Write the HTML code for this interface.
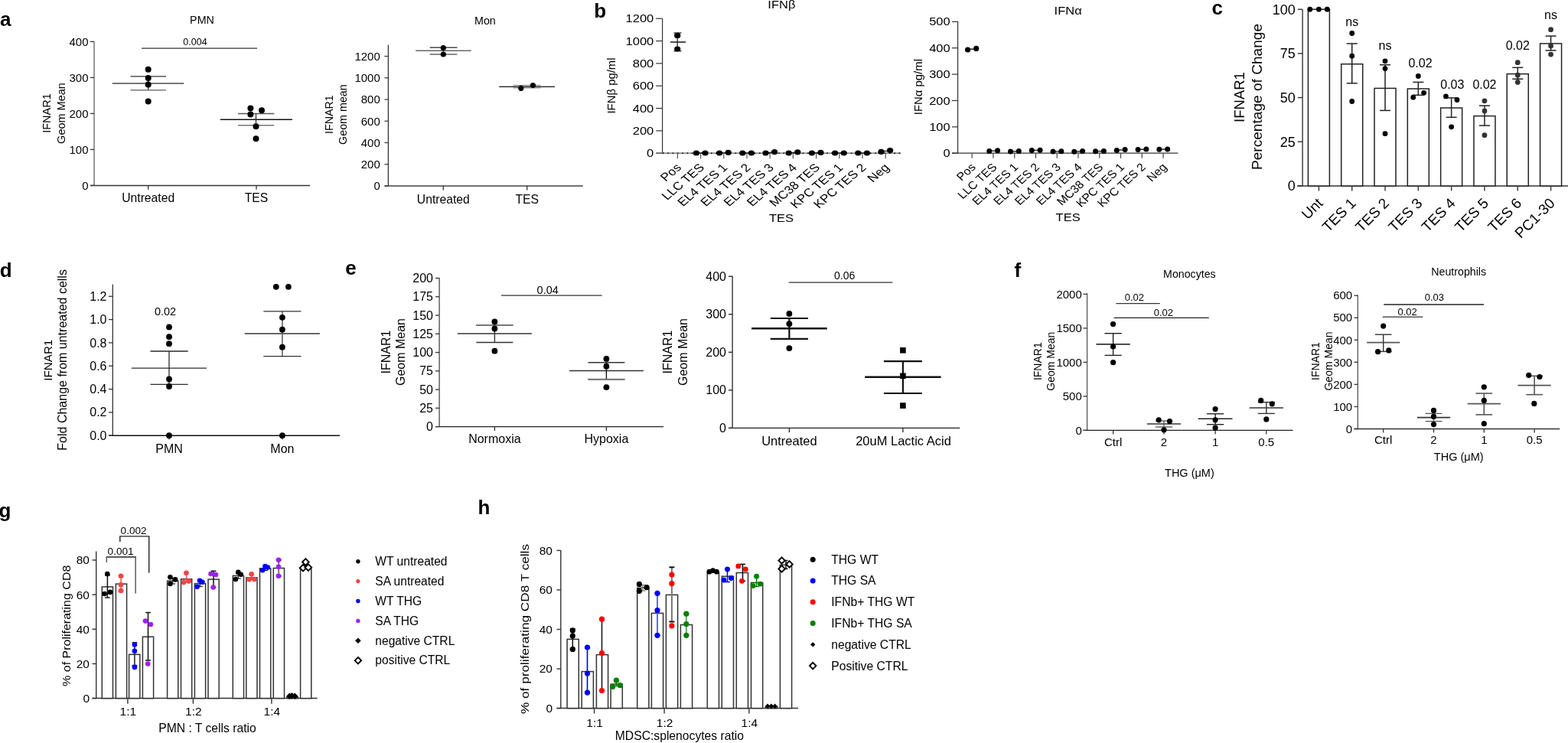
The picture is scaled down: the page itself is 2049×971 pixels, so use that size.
<!DOCTYPE html>
<html><head><meta charset="utf-8"><title>Figure</title>
<style>
html,body{margin:0;padding:0;background:#fff;}
body{width:2049px;height:971px;overflow:hidden;}
svg{display:block;font-family:"Liberation Sans", Arial, Helvetica, sans-serif;}
</style></head>
<body>
<svg width="2049" height="971" viewBox="0 0 2049 971">
<rect x="0" y="0" width="2049" height="971" fill="#fff"/>
<text x="0.1" y="34" font-size="26" font-weight="bold">a</text>
<text x="776.3" y="22.6" font-size="26" font-weight="bold">b</text>
<text x="1583.6" y="18.6" font-size="26" font-weight="bold">c</text>
<text x="-0.3" y="361.5" font-size="26" font-weight="bold">d</text>
<text x="451.2" y="359.2" font-size="26" font-weight="bold">e</text>
<text x="1325.5" y="362" font-size="26" font-weight="bold">f</text>
<text x="-1.5" y="675.5" font-size="26" font-weight="bold">g</text>
<text x="624.5" y="671.8" font-size="26" font-weight="bold">h</text>
<line x1="123" y1="54.4" x2="123" y2="242.4" stroke="#777" stroke-width="1.5" />
<line x1="118" y1="242.5" x2="405" y2="242.5" stroke="#333" stroke-width="1.3" />
<line x1="118" y1="242.4" x2="123" y2="242.4" stroke="#333" stroke-width="1.3" />
<text x="115.5" y="247.8" font-size="15" text-anchor="end">0</text>
<line x1="118" y1="195.4" x2="123" y2="195.4" stroke="#333" stroke-width="1.3" />
<text x="115.5" y="200.8" font-size="15" text-anchor="end">100</text>
<line x1="118" y1="148.4" x2="123" y2="148.4" stroke="#333" stroke-width="1.3" />
<text x="115.5" y="153.8" font-size="15" text-anchor="end">200</text>
<line x1="118" y1="101.4" x2="123" y2="101.4" stroke="#333" stroke-width="1.3" />
<text x="115.5" y="106.8" font-size="15" text-anchor="end">300</text>
<line x1="118" y1="54.4" x2="123" y2="54.4" stroke="#333" stroke-width="1.3" />
<text x="115.5" y="59.8" font-size="15" text-anchor="end">400</text>
<line x1="193.7" y1="242.5" x2="193.7" y2="247.8" stroke="#333" stroke-width="1.3" />
<line x1="335" y1="242.5" x2="335" y2="247.8" stroke="#333" stroke-width="1.3" />
<text x="193.7" y="264.1" font-size="15.7" text-anchor="middle">Untreated</text>
<text x="335" y="264.1" font-size="15.7" text-anchor="middle">TES</text>
<text x="264" y="31" font-size="14.3" text-anchor="middle">PMN</text>
<text transform="translate(66 148) rotate(-90)" font-size="14.5" text-anchor="middle">IFNAR1</text>
<text transform="translate(85 148) rotate(-90)" font-size="14.5" text-anchor="middle">Geom Mean</text>
<line x1="185" y1="63.2" x2="336" y2="63.2" stroke="#333" stroke-width="1.2" />
<text x="255" y="59" font-size="12.5" text-anchor="middle">0.004</text>
<line x1="146.7" y1="109" x2="240.3" y2="109" stroke="#777" stroke-width="2" />
<line x1="193.7" y1="99.8" x2="193.7" y2="117.7" stroke="#333" stroke-width="1.3" />
<line x1="170.5" y1="99.8" x2="217" y2="99.8" stroke="#333" stroke-width="1.3" />
<line x1="170.5" y1="117.7" x2="217" y2="117.7" stroke="#777" stroke-width="1.6" />
<circle cx="193.7" cy="90.8" r="4" fill="#000"/>
<circle cx="193.7" cy="101.9" r="4" fill="#000"/>
<circle cx="193.7" cy="110.6" r="4" fill="#000"/>
<circle cx="193.7" cy="132.5" r="4" fill="#000"/>
<line x1="287.9" y1="156.3" x2="382" y2="156.3" stroke="#111" stroke-width="1.5" />
<line x1="334.5" y1="148.6" x2="334.5" y2="163.7" stroke="#333" stroke-width="1.3" />
<line x1="311" y1="148.6" x2="358.3" y2="148.6" stroke="#555" stroke-width="1.5" />
<line x1="311" y1="163.7" x2="358.3" y2="163.7" stroke="#777" stroke-width="1.6" />
<circle cx="327.4" cy="141.5" r="4" fill="#000"/>
<circle cx="342" cy="144.2" r="4" fill="#000"/>
<circle cx="327.4" cy="149.5" r="4" fill="#000"/>
<circle cx="334.5" cy="165.2" r="4" fill="#000"/>
<circle cx="334.5" cy="181.3" r="4" fill="#000"/>
<line x1="507.4" y1="58.7" x2="507.4" y2="243" stroke="#333" stroke-width="1.3" />
<line x1="502.5" y1="243" x2="761.8" y2="243" stroke="#444" stroke-width="1.3" />
<line x1="502.5" y1="243" x2="507.4" y2="243" stroke="#333" stroke-width="1.2" />
<text x="496.8" y="248.4" font-size="15" text-anchor="end">0</text>
<line x1="502.5" y1="214.75" x2="507.4" y2="214.75" stroke="#333" stroke-width="1.2" />
<text x="496.8" y="220.15" font-size="15" text-anchor="end">200</text>
<line x1="502.5" y1="186.5" x2="507.4" y2="186.5" stroke="#333" stroke-width="1.2" />
<text x="496.8" y="191.9" font-size="15" text-anchor="end">400</text>
<line x1="502.5" y1="158.25" x2="507.4" y2="158.25" stroke="#333" stroke-width="1.2" />
<text x="496.8" y="163.65" font-size="15" text-anchor="end">600</text>
<line x1="502.5" y1="130" x2="507.4" y2="130" stroke="#333" stroke-width="1.2" />
<text x="496.8" y="135.4" font-size="15" text-anchor="end">800</text>
<line x1="502.5" y1="101.75" x2="507.4" y2="101.75" stroke="#333" stroke-width="1.2" />
<text x="496.8" y="107.15" font-size="15" text-anchor="end">1000</text>
<line x1="502.5" y1="73.5" x2="507.4" y2="73.5" stroke="#333" stroke-width="1.2" />
<text x="496.8" y="78.9" font-size="15" text-anchor="end">1200</text>
<line x1="579.3" y1="243" x2="579.3" y2="248.5" stroke="#333" stroke-width="1.3" />
<line x1="688.7" y1="243" x2="688.7" y2="248.5" stroke="#333" stroke-width="1.3" />
<text x="579.3" y="265.6" font-size="15.7" text-anchor="middle">Untreated</text>
<text x="688.7" y="265.6" font-size="15.7" text-anchor="middle">TES</text>
<text x="633.9" y="31.7" font-size="14.3" text-anchor="middle">Mon</text>
<text transform="translate(434.6 149.6) rotate(-90)" font-size="14.3" text-anchor="middle">IFNAR1</text>
<text transform="translate(452.8 149.6) rotate(-90)" font-size="14.3" text-anchor="middle">Geom mean</text>
<line x1="543.2" y1="66.3" x2="615.7" y2="66.3" stroke="#666" stroke-width="1.5" />
<line x1="561.7" y1="62.2" x2="597.5" y2="62.2" stroke="#222" stroke-width="1.3" />
<line x1="561.7" y1="71" x2="597.5" y2="71" stroke="#666" stroke-width="1.3" />
<line x1="579.3" y1="62.2" x2="579.3" y2="71" stroke="#333" stroke-width="1.2" />
<circle cx="579.3" cy="62.5" r="3.6" fill="#000"/>
<circle cx="579.3" cy="71" r="3.6" fill="#000"/>
<line x1="652.3" y1="113.3" x2="725.1" y2="113.3" stroke="#111" stroke-width="1.3" />
<line x1="670.5" y1="111.5" x2="706.6" y2="111.5" stroke="#777" stroke-width="1.2" />
<line x1="670.5" y1="115" x2="706.6" y2="115" stroke="#777" stroke-width="1.2" />
<circle cx="680.8" cy="115.3" r="3.6" fill="#000"/>
<circle cx="696.4" cy="111.5" r="3.6" fill="#000"/>
<line x1="865.6" y1="24.3" x2="865.6" y2="200.2" stroke="#333" stroke-width="1.2" />
<line x1="857.2" y1="200.2" x2="865.6" y2="200.2" stroke="#333" stroke-width="1.2" />
<text transform="translate(854.3 205.3) scale(1.18 1)" font-size="14" text-anchor="end">0</text>
<line x1="857.2" y1="170.87" x2="865.6" y2="170.87" stroke="#333" stroke-width="1.2" />
<text transform="translate(854.3 175.97) scale(1.18 1)" font-size="14" text-anchor="end">200</text>
<line x1="857.2" y1="141.54" x2="865.6" y2="141.54" stroke="#333" stroke-width="1.2" />
<text transform="translate(854.3 146.64) scale(1.18 1)" font-size="14" text-anchor="end">400</text>
<line x1="857.2" y1="112.21" x2="865.6" y2="112.21" stroke="#333" stroke-width="1.2" />
<text transform="translate(854.3 117.31) scale(1.18 1)" font-size="14" text-anchor="end">600</text>
<line x1="857.2" y1="82.88" x2="865.6" y2="82.88" stroke="#333" stroke-width="1.2" />
<text transform="translate(854.3 87.98) scale(1.18 1)" font-size="14" text-anchor="end">800</text>
<line x1="857.2" y1="53.55" x2="865.6" y2="53.55" stroke="#333" stroke-width="1.2" />
<text transform="translate(854.3 58.65) scale(1.18 1)" font-size="14" text-anchor="end">1000</text>
<line x1="857.2" y1="24.22" x2="865.6" y2="24.22" stroke="#333" stroke-width="1.2" />
<text transform="translate(854.3 29.32) scale(1.18 1)" font-size="14" text-anchor="end">1200</text>
<line x1="857.2" y1="200.2" x2="1177" y2="200.2" stroke="#666" stroke-width="1.3" />
<line x1="866" y1="200.2" x2="1177" y2="200.2" stroke="#000" stroke-width="1.6" stroke-dasharray="1.6 4.7"/>
<line x1="885.4" y1="200.2" x2="885.4" y2="207.2" stroke="#555" stroke-width="1.2" />
<text transform="translate(891.3 219.9) scale(1.18 1) rotate(-45)" font-size="14.75" text-anchor="end">Pos</text>
<line x1="915.6" y1="200.2" x2="915.6" y2="207.2" stroke="#555" stroke-width="1.2" />
<text transform="translate(921.5 219.9) scale(1.18 1) rotate(-45)" font-size="14.75" text-anchor="end">LLC TES</text>
<line x1="945.8" y1="200.2" x2="945.8" y2="207.2" stroke="#555" stroke-width="1.2" />
<text transform="translate(951.7 219.9) scale(1.18 1) rotate(-45)" font-size="14.75" text-anchor="end">EL4 TES 1</text>
<line x1="976" y1="200.2" x2="976" y2="207.2" stroke="#555" stroke-width="1.2" />
<text transform="translate(981.9 219.9) scale(1.18 1) rotate(-45)" font-size="14.75" text-anchor="end">EL4 TES 2</text>
<line x1="1006.2" y1="200.2" x2="1006.2" y2="207.2" stroke="#555" stroke-width="1.2" />
<text transform="translate(1012.1 219.9) scale(1.18 1) rotate(-45)" font-size="14.75" text-anchor="end">EL4 TES 3</text>
<line x1="1036.4" y1="200.2" x2="1036.4" y2="207.2" stroke="#555" stroke-width="1.2" />
<text transform="translate(1042.3 219.9) scale(1.18 1) rotate(-45)" font-size="14.75" text-anchor="end">EL4 TES 4</text>
<line x1="1066.6" y1="200.2" x2="1066.6" y2="207.2" stroke="#555" stroke-width="1.2" />
<text transform="translate(1072.5 219.9) scale(1.18 1) rotate(-45)" font-size="14.75" text-anchor="end">MC38 TES</text>
<line x1="1096.8" y1="200.2" x2="1096.8" y2="207.2" stroke="#555" stroke-width="1.2" />
<text transform="translate(1102.7 219.9) scale(1.18 1) rotate(-45)" font-size="14.75" text-anchor="end">KPC TES 1</text>
<line x1="1127" y1="200.2" x2="1127" y2="207.2" stroke="#555" stroke-width="1.2" />
<text transform="translate(1132.9 219.9) scale(1.18 1) rotate(-45)" font-size="14.75" text-anchor="end">KPC TES 2</text>
<line x1="1157.2" y1="200.2" x2="1157.2" y2="207.2" stroke="#555" stroke-width="1.2" />
<text transform="translate(1163.1 219.9) scale(1.18 1) rotate(-45)" font-size="14.75" text-anchor="end">Neg</text>
<text transform="translate(1021.4 10.6) scale(1.18 1)" font-size="14" text-anchor="middle">IFNβ</text>
<text transform="translate(804.3 112) rotate(-90)" font-size="14.9" text-anchor="middle">IFNβ pg/ml</text>
<text transform="translate(1021 290.3) scale(1.18 1)" font-size="14" text-anchor="middle">TES</text>
<line x1="875.9" y1="55" x2="896" y2="55" stroke="#222" stroke-width="1.6" />
<line x1="885.2" y1="43" x2="885.2" y2="66.7" stroke="#222" stroke-width="1.3" />
<line x1="880.5" y1="43" x2="890.4" y2="43" stroke="#222" stroke-width="1.3" />
<line x1="880.5" y1="66.7" x2="890.4" y2="66.7" stroke="#222" stroke-width="1.3" />
<ellipse cx="885.2" cy="46.4" rx="4.14" ry="3.6" fill="#000"/>
<ellipse cx="885.2" cy="64" rx="4.14" ry="3.6" fill="#000"/>
<line x1="909.9" y1="200" x2="921.3" y2="200" stroke="#222" stroke-width="1.4" />
<ellipse cx="909.9" cy="200" rx="4.14" ry="3.6" fill="#000"/>
<ellipse cx="921.5" cy="200" rx="4.14" ry="3.6" fill="#000"/>
<line x1="940.1" y1="199.65" x2="951.5" y2="199.65" stroke="#222" stroke-width="1.4" />
<ellipse cx="940.1" cy="200" rx="4.14" ry="3.6" fill="#000"/>
<ellipse cx="951.7" cy="199.3" rx="4.14" ry="3.6" fill="#000"/>
<line x1="970.3" y1="200" x2="981.7" y2="200" stroke="#222" stroke-width="1.4" />
<ellipse cx="970.3" cy="200" rx="4.14" ry="3.6" fill="#000"/>
<ellipse cx="981.9" cy="200" rx="4.14" ry="3.6" fill="#000"/>
<line x1="1000.5" y1="199.3" x2="1011.9" y2="199.3" stroke="#222" stroke-width="1.4" />
<ellipse cx="1000.5" cy="200" rx="4.14" ry="3.6" fill="#000"/>
<ellipse cx="1012.1" cy="198.6" rx="4.14" ry="3.6" fill="#000"/>
<line x1="1030.7" y1="199.4" x2="1042.1" y2="199.4" stroke="#222" stroke-width="1.4" />
<ellipse cx="1030.7" cy="200" rx="4.14" ry="3.6" fill="#000"/>
<ellipse cx="1042.3" cy="198.8" rx="4.14" ry="3.6" fill="#000"/>
<line x1="1060.9" y1="199.7" x2="1072.3" y2="199.7" stroke="#222" stroke-width="1.4" />
<ellipse cx="1060.9" cy="200" rx="4.14" ry="3.6" fill="#000"/>
<ellipse cx="1072.5" cy="199.4" rx="4.14" ry="3.6" fill="#000"/>
<line x1="1091.1" y1="200" x2="1102.5" y2="200" stroke="#222" stroke-width="1.4" />
<ellipse cx="1091.1" cy="200" rx="4.14" ry="3.6" fill="#000"/>
<ellipse cx="1102.7" cy="200" rx="4.14" ry="3.6" fill="#000"/>
<line x1="1121.3" y1="200" x2="1132.7" y2="200" stroke="#222" stroke-width="1.4" />
<ellipse cx="1121.3" cy="200" rx="4.14" ry="3.6" fill="#000"/>
<ellipse cx="1132.9" cy="200" rx="4.14" ry="3.6" fill="#000"/>
<line x1="1151.5" y1="197.45" x2="1162.9" y2="197.45" stroke="#222" stroke-width="1.4" />
<ellipse cx="1151.5" cy="198.4" rx="4.14" ry="3.6" fill="#000"/>
<ellipse cx="1163.1" cy="196.5" rx="4.14" ry="3.6" fill="#000"/>
<line x1="1251.6" y1="27.8" x2="1251.6" y2="200.2" stroke="#333" stroke-width="1.2" />
<line x1="1244" y1="200.2" x2="1251.6" y2="200.2" stroke="#333" stroke-width="1.2" />
<text transform="translate(1241.7 205.3) scale(1.18 1)" font-size="14" text-anchor="end">0</text>
<line x1="1244" y1="165.83" x2="1251.6" y2="165.83" stroke="#333" stroke-width="1.2" />
<text transform="translate(1241.7 170.93) scale(1.18 1)" font-size="14" text-anchor="end">100</text>
<line x1="1244" y1="131.46" x2="1251.6" y2="131.46" stroke="#333" stroke-width="1.2" />
<text transform="translate(1241.7 136.56) scale(1.18 1)" font-size="14" text-anchor="end">200</text>
<line x1="1244" y1="97.09" x2="1251.6" y2="97.09" stroke="#333" stroke-width="1.2" />
<text transform="translate(1241.7 102.19) scale(1.18 1)" font-size="14" text-anchor="end">300</text>
<line x1="1244" y1="62.72" x2="1251.6" y2="62.72" stroke="#333" stroke-width="1.2" />
<text transform="translate(1241.7 67.82) scale(1.18 1)" font-size="14" text-anchor="end">400</text>
<line x1="1244" y1="28.35" x2="1251.6" y2="28.35" stroke="#333" stroke-width="1.2" />
<text transform="translate(1241.7 33.45) scale(1.18 1)" font-size="14" text-anchor="end">500</text>
<line x1="1244" y1="200.2" x2="1539.3" y2="200.2" stroke="#333" stroke-width="1.3" />
<line x1="1270.2" y1="200.2" x2="1270.2" y2="206.8" stroke="#444" stroke-width="1.2" />
<text transform="translate(1275.9 219.4) scale(1.1 1) rotate(-45)" font-size="14.5" text-anchor="end">Pos</text>
<line x1="1297.96" y1="200.2" x2="1297.96" y2="206.8" stroke="#444" stroke-width="1.2" />
<text transform="translate(1303.66 219.4) scale(1.1 1) rotate(-45)" font-size="14.5" text-anchor="end">LLC TES</text>
<line x1="1325.72" y1="200.2" x2="1325.72" y2="206.8" stroke="#444" stroke-width="1.2" />
<text transform="translate(1331.42 219.4) scale(1.1 1) rotate(-45)" font-size="14.5" text-anchor="end">EL4 TES 1</text>
<line x1="1353.48" y1="200.2" x2="1353.48" y2="206.8" stroke="#444" stroke-width="1.2" />
<text transform="translate(1359.18 219.4) scale(1.1 1) rotate(-45)" font-size="14.5" text-anchor="end">EL4 TES 2</text>
<line x1="1381.24" y1="200.2" x2="1381.24" y2="206.8" stroke="#444" stroke-width="1.2" />
<text transform="translate(1386.94 219.4) scale(1.1 1) rotate(-45)" font-size="14.5" text-anchor="end">EL4 TES 3</text>
<line x1="1409" y1="200.2" x2="1409" y2="206.8" stroke="#444" stroke-width="1.2" />
<text transform="translate(1414.7 219.4) scale(1.1 1) rotate(-45)" font-size="14.5" text-anchor="end">EL4 TES 4</text>
<line x1="1436.76" y1="200.2" x2="1436.76" y2="206.8" stroke="#444" stroke-width="1.2" />
<text transform="translate(1442.46 219.4) scale(1.1 1) rotate(-45)" font-size="14.5" text-anchor="end">MC38 TES</text>
<line x1="1464.52" y1="200.2" x2="1464.52" y2="206.8" stroke="#444" stroke-width="1.2" />
<text transform="translate(1470.22 219.4) scale(1.1 1) rotate(-45)" font-size="14.5" text-anchor="end">KPC TES 1</text>
<line x1="1492.28" y1="200.2" x2="1492.28" y2="206.8" stroke="#444" stroke-width="1.2" />
<text transform="translate(1497.98 219.4) scale(1.1 1) rotate(-45)" font-size="14.5" text-anchor="end">KPC TES 2</text>
<line x1="1520.04" y1="200.2" x2="1520.04" y2="206.8" stroke="#444" stroke-width="1.2" />
<text transform="translate(1525.74 219.4) scale(1.1 1) rotate(-45)" font-size="14.5" text-anchor="end">Neg</text>
<text transform="translate(1395.6 19.2) scale(1.18 1)" font-size="14" text-anchor="middle">IFNα</text>
<text transform="translate(1205 113.6) rotate(-90)" font-size="14.9" text-anchor="middle">IFNα pg/ml</text>
<text transform="translate(1395.6 289) scale(1.18 1)" font-size="14" text-anchor="middle">TES</text>
<line x1="1264.6" y1="64.2" x2="1275.7" y2="64.2" stroke="#222" stroke-width="1.5" />
<circle cx="1264.6" cy="65" r="3.6" fill="#000"/>
<circle cx="1275.7" cy="63.4" r="3.6" fill="#000"/>
<line x1="1292.76" y1="197.15" x2="1303.56" y2="197.15" stroke="#222" stroke-width="1.4" />
<circle cx="1292.76" cy="197.6" r="3.5" fill="#000"/>
<circle cx="1303.56" cy="196.7" r="3.5" fill="#000"/>
<line x1="1320.52" y1="197.75" x2="1331.32" y2="197.75" stroke="#222" stroke-width="1.4" />
<circle cx="1320.52" cy="198" r="3.5" fill="#000"/>
<circle cx="1331.32" cy="197.5" r="3.5" fill="#000"/>
<line x1="1348.28" y1="196.35" x2="1359.08" y2="196.35" stroke="#222" stroke-width="1.4" />
<circle cx="1348.28" cy="196.5" r="3.5" fill="#000"/>
<circle cx="1359.08" cy="196.2" r="3.5" fill="#000"/>
<line x1="1376.04" y1="197.9" x2="1386.84" y2="197.9" stroke="#222" stroke-width="1.4" />
<circle cx="1376.04" cy="198" r="3.5" fill="#000"/>
<circle cx="1386.84" cy="197.8" r="3.5" fill="#000"/>
<line x1="1403.8" y1="197.95" x2="1414.6" y2="197.95" stroke="#222" stroke-width="1.4" />
<circle cx="1403.8" cy="198.3" r="3.5" fill="#000"/>
<circle cx="1414.6" cy="197.6" r="3.5" fill="#000"/>
<line x1="1431.56" y1="197.65" x2="1442.36" y2="197.65" stroke="#222" stroke-width="1.4" />
<circle cx="1431.56" cy="197.8" r="3.5" fill="#000"/>
<circle cx="1442.36" cy="197.5" r="3.5" fill="#000"/>
<line x1="1459.32" y1="196.05" x2="1470.12" y2="196.05" stroke="#222" stroke-width="1.4" />
<circle cx="1459.32" cy="196.5" r="3.5" fill="#000"/>
<circle cx="1470.12" cy="195.6" r="3.5" fill="#000"/>
<line x1="1487.08" y1="195.3" x2="1497.88" y2="195.3" stroke="#222" stroke-width="1.4" />
<circle cx="1487.08" cy="195.6" r="3.5" fill="#000"/>
<circle cx="1497.88" cy="195" r="3.5" fill="#000"/>
<line x1="1514.84" y1="195.15" x2="1525.64" y2="195.15" stroke="#222" stroke-width="1.4" />
<circle cx="1514.84" cy="195.3" r="3.5" fill="#000"/>
<circle cx="1525.64" cy="195" r="3.5" fill="#000"/>
<line x1="1702.1" y1="12.2" x2="1702.1" y2="243" stroke="#333" stroke-width="1.4" />
<line x1="1695.8" y1="242.9" x2="1702.1" y2="242.9" stroke="#333" stroke-width="1.4" />
<text x="1692.8" y="249.3" font-size="18" text-anchor="end">0</text>
<line x1="1695.8" y1="185.23" x2="1702.1" y2="185.23" stroke="#333" stroke-width="1.4" />
<text x="1692.8" y="191.63" font-size="18" text-anchor="end">25</text>
<line x1="1695.8" y1="127.55" x2="1702.1" y2="127.55" stroke="#333" stroke-width="1.4" />
<text x="1692.8" y="133.95" font-size="18" text-anchor="end">50</text>
<line x1="1695.8" y1="69.88" x2="1702.1" y2="69.88" stroke="#333" stroke-width="1.4" />
<text x="1692.8" y="76.28" font-size="18" text-anchor="end">75</text>
<line x1="1695.8" y1="12.2" x2="1702.1" y2="12.2" stroke="#333" stroke-width="1.4" />
<text x="1692.8" y="18.6" font-size="18" text-anchor="end">100</text>
<line x1="1695" y1="243" x2="2049" y2="243" stroke="#333" stroke-width="1.4" />
<rect x="1709.4" y="12.2" width="28" height="230.8" stroke="#222" stroke-width="1.5" fill="#fff"/>
<line x1="1723.4" y1="243" x2="1723.4" y2="249.4" stroke="#333" stroke-width="1.4" />
<text transform="translate(1729.7 266.8) rotate(-45)" font-size="19" text-anchor="end">Unt</text>
<rect x="1752.71" y="83.7" width="28" height="159.3" stroke="#222" stroke-width="1.5" fill="#fff"/>
<line x1="1766.71" y1="243" x2="1766.71" y2="249.4" stroke="#333" stroke-width="1.4" />
<text transform="translate(1773.01 266.8) rotate(-45)" font-size="19" text-anchor="end">TES 1</text>
<rect x="1796.02" y="115.4" width="28" height="127.6" stroke="#222" stroke-width="1.5" fill="#fff"/>
<line x1="1810.02" y1="243" x2="1810.02" y2="249.4" stroke="#333" stroke-width="1.4" />
<text transform="translate(1816.32 266.8) rotate(-45)" font-size="19" text-anchor="end">TES 2</text>
<rect x="1839.33" y="116" width="28" height="127" stroke="#222" stroke-width="1.5" fill="#fff"/>
<line x1="1853.33" y1="243" x2="1853.33" y2="249.4" stroke="#333" stroke-width="1.4" />
<text transform="translate(1859.63 266.8) rotate(-45)" font-size="19" text-anchor="end">TES 3</text>
<rect x="1882.64" y="141" width="28" height="102" stroke="#222" stroke-width="1.5" fill="#fff"/>
<line x1="1896.64" y1="243" x2="1896.64" y2="249.4" stroke="#333" stroke-width="1.4" />
<text transform="translate(1902.94 266.8) rotate(-45)" font-size="19" text-anchor="end">TES 4</text>
<rect x="1925.95" y="151.6" width="28" height="91.4" stroke="#222" stroke-width="1.5" fill="#fff"/>
<line x1="1939.95" y1="243" x2="1939.95" y2="249.4" stroke="#333" stroke-width="1.4" />
<text transform="translate(1946.25 266.8) rotate(-45)" font-size="19" text-anchor="end">TES 5</text>
<rect x="1969.26" y="96.6" width="28" height="146.4" stroke="#222" stroke-width="1.5" fill="#fff"/>
<line x1="1983.26" y1="243" x2="1983.26" y2="249.4" stroke="#333" stroke-width="1.4" />
<text transform="translate(1989.56 266.8) rotate(-45)" font-size="19" text-anchor="end">TES 6</text>
<rect x="2012.57" y="56.9" width="28" height="186.1" stroke="#222" stroke-width="1.5" fill="#fff"/>
<line x1="2026.57" y1="243" x2="2026.57" y2="249.4" stroke="#333" stroke-width="1.4" />
<text transform="translate(2032.87 266.8) rotate(-45)" font-size="19" text-anchor="end">PC1-30</text>
<line x1="1766.71" y1="57" x2="1766.71" y2="108.8" stroke="#222" stroke-width="1.5" />
<line x1="1759.71" y1="57" x2="1773.71" y2="57" stroke="#222" stroke-width="1.5" />
<line x1="1759.71" y1="108.8" x2="1773.71" y2="108.8" stroke="#222" stroke-width="1.5" />
<line x1="1810.02" y1="84.7" x2="1810.02" y2="144.4" stroke="#222" stroke-width="1.5" />
<line x1="1803.02" y1="84.7" x2="1817.02" y2="84.7" stroke="#222" stroke-width="1.5" />
<line x1="1803.02" y1="144.4" x2="1817.02" y2="144.4" stroke="#222" stroke-width="1.5" />
<line x1="1853.33" y1="107.4" x2="1853.33" y2="124.3" stroke="#222" stroke-width="1.5" />
<line x1="1846.33" y1="107.4" x2="1860.33" y2="107.4" stroke="#222" stroke-width="1.5" />
<line x1="1846.33" y1="124.3" x2="1860.33" y2="124.3" stroke="#222" stroke-width="1.5" />
<line x1="1896.64" y1="127.9" x2="1896.64" y2="153.3" stroke="#222" stroke-width="1.5" />
<line x1="1889.64" y1="127.9" x2="1903.64" y2="127.9" stroke="#222" stroke-width="1.5" />
<line x1="1889.64" y1="153.3" x2="1903.64" y2="153.3" stroke="#222" stroke-width="1.5" />
<line x1="1939.95" y1="138.1" x2="1939.95" y2="164.1" stroke="#222" stroke-width="1.5" />
<line x1="1932.95" y1="138.1" x2="1946.95" y2="138.1" stroke="#222" stroke-width="1.5" />
<line x1="1932.95" y1="164.1" x2="1946.95" y2="164.1" stroke="#222" stroke-width="1.5" />
<line x1="1983.26" y1="88.3" x2="1983.26" y2="103.2" stroke="#222" stroke-width="1.5" />
<line x1="1976.26" y1="88.3" x2="1990.26" y2="88.3" stroke="#222" stroke-width="1.5" />
<line x1="1976.26" y1="103.2" x2="1990.26" y2="103.2" stroke="#222" stroke-width="1.5" />
<line x1="2026.57" y1="47.1" x2="2026.57" y2="65.9" stroke="#222" stroke-width="1.5" />
<line x1="2019.57" y1="47.1" x2="2033.57" y2="47.1" stroke="#222" stroke-width="1.5" />
<line x1="2019.57" y1="65.9" x2="2033.57" y2="65.9" stroke="#222" stroke-width="1.5" />
<circle cx="1711.8" cy="12.2" r="3.4" fill="#000"/>
<circle cx="1723.4" cy="12.2" r="3.4" fill="#000"/>
<circle cx="1734.3" cy="12.2" r="3.4" fill="#000"/>
<circle cx="1766.71" cy="43.5" r="3.4" fill="#000"/>
<circle cx="1766.71" cy="73.2" r="3.4" fill="#000"/>
<circle cx="1766.71" cy="132.5" r="3.4" fill="#000"/>
<circle cx="1810.02" cy="79.8" r="3.4" fill="#000"/>
<circle cx="1810.02" cy="89.6" r="3.4" fill="#000"/>
<circle cx="1810.02" cy="174.7" r="3.4" fill="#000"/>
<circle cx="1853.33" cy="99.5" r="3.4" fill="#000"/>
<circle cx="1846.73" cy="127.2" r="3.4" fill="#000"/>
<circle cx="1860.63" cy="121.3" r="3.4" fill="#000"/>
<circle cx="1889.44" cy="125.9" r="3.4" fill="#000"/>
<circle cx="1903.94" cy="130.5" r="3.4" fill="#000"/>
<circle cx="1896.64" cy="165.8" r="3.4" fill="#000"/>
<circle cx="1939.95" cy="131.8" r="3.4" fill="#333"/>
<circle cx="1939.95" cy="145" r="3.4" fill="#333"/>
<circle cx="1939.95" cy="176.7" r="3.4" fill="#333"/>
<circle cx="1983.26" cy="81.7" r="3.4" fill="#333"/>
<circle cx="1983.26" cy="98.2" r="3.4" fill="#333"/>
<circle cx="1983.26" cy="107.4" r="3.4" fill="#333"/>
<circle cx="2026.57" cy="38.7" r="3.4" fill="#333"/>
<circle cx="2026.57" cy="59.9" r="3.4" fill="#333"/>
<circle cx="2026.57" cy="71.1" r="3.4" fill="#333"/>
<text x="1766.71" y="34" font-size="16" text-anchor="middle">ns</text>
<text x="1810.02" y="65" font-size="16" text-anchor="middle">ns</text>
<text x="1856.03" y="88.3" font-size="16" text-anchor="middle">0.02</text>
<text x="1897.84" y="116" font-size="16" text-anchor="middle">0.03</text>
<text x="1939.95" y="116" font-size="16" text-anchor="middle">0.02</text>
<text x="1983.26" y="65.3" font-size="16" text-anchor="middle">0.02</text>
<text x="2026.57" y="24.7" font-size="16" text-anchor="middle">ns</text>
<text transform="translate(1626 127) rotate(-90)" font-size="18.5" text-anchor="middle">IFNAR1</text>
<text transform="translate(1649.2 126.5) rotate(-90)" font-size="19.1" text-anchor="middle">Percentage of Change</text>
<line x1="147.3" y1="371.8" x2="147.3" y2="569.2" stroke="#333" stroke-width="1.3" />
<line x1="142" y1="569.3" x2="444" y2="569.3" stroke="#111" stroke-width="1.5" />
<line x1="142" y1="569.2" x2="147.3" y2="569.2" stroke="#333" stroke-width="1.3" />
<text x="139.5" y="574.8" font-size="16" text-anchor="end">0.0</text>
<line x1="142" y1="538.88" x2="147.3" y2="538.88" stroke="#333" stroke-width="1.3" />
<text x="139.5" y="544.48" font-size="16" text-anchor="end">0.2</text>
<line x1="142" y1="508.56" x2="147.3" y2="508.56" stroke="#333" stroke-width="1.3" />
<text x="139.5" y="514.16" font-size="16" text-anchor="end">0.4</text>
<line x1="142" y1="478.24" x2="147.3" y2="478.24" stroke="#333" stroke-width="1.3" />
<text x="139.5" y="483.84" font-size="16" text-anchor="end">0.6</text>
<line x1="142" y1="447.92" x2="147.3" y2="447.92" stroke="#333" stroke-width="1.3" />
<text x="139.5" y="453.52" font-size="16" text-anchor="end">0.8</text>
<line x1="142" y1="417.6" x2="147.3" y2="417.6" stroke="#333" stroke-width="1.3" />
<text x="139.5" y="423.2" font-size="16" text-anchor="end">1.0</text>
<line x1="142" y1="387.28" x2="147.3" y2="387.28" stroke="#333" stroke-width="1.3" />
<text x="139.5" y="392.88" font-size="16" text-anchor="end">1.2</text>
<line x1="221" y1="569.2" x2="221" y2="574.5" stroke="#333" stroke-width="1.3" />
<line x1="368.9" y1="569.2" x2="368.9" y2="574.5" stroke="#333" stroke-width="1.3" />
<text x="221" y="592" font-size="16" text-anchor="middle">PMN</text>
<text x="368.9" y="592" font-size="16" text-anchor="middle">Mon</text>
<text transform="translate(67.6 470.7) rotate(-90)" font-size="15.2" text-anchor="middle">IFNAR1</text>
<text transform="translate(87 470.4) rotate(-90)" font-size="16" text-anchor="middle">Fold Change from untreated cells</text>
<text x="216" y="412.1" font-size="14.5" text-anchor="middle">0.02</text>
<line x1="172" y1="481.1" x2="270" y2="481.1" stroke="#2a2a2a" stroke-width="1.4" />
<line x1="221" y1="459" x2="221" y2="502.3" stroke="#2a2a2a" stroke-width="1.3" />
<line x1="196.4" y1="459" x2="245.6" y2="459" stroke="#2a2a2a" stroke-width="1.3" />
<line x1="196.4" y1="502.3" x2="245.6" y2="502.3" stroke="#2a2a2a" stroke-width="1.3" />
<circle cx="221" cy="427.4" r="3.9" fill="#000"/>
<circle cx="221" cy="440.2" r="3.9" fill="#000"/>
<circle cx="221" cy="449.2" r="3.9" fill="#000"/>
<circle cx="221" cy="495.5" r="3.9" fill="#000"/>
<circle cx="221" cy="505" r="3.9" fill="#000"/>
<circle cx="221" cy="569.2" r="3.9" fill="#000"/>
<line x1="319.9" y1="436" x2="417.9" y2="436" stroke="#333" stroke-width="1.4" />
<line x1="368.9" y1="406.8" x2="368.9" y2="465.6" stroke="#555" stroke-width="1.5" />
<line x1="344.3" y1="406.8" x2="393.5" y2="406.8" stroke="#333" stroke-width="1.3" />
<line x1="344.3" y1="465.6" x2="393.5" y2="465.6" stroke="#333" stroke-width="1.3" />
<circle cx="360.8" cy="374.8" r="3.9" fill="#000"/>
<circle cx="376.9" cy="374.8" r="3.9" fill="#000"/>
<circle cx="368.9" cy="414.8" r="3.9" fill="#000"/>
<circle cx="368.9" cy="430.7" r="3.9" fill="#000"/>
<circle cx="368.9" cy="453.7" r="3.9" fill="#000"/>
<circle cx="368.9" cy="569.2" r="3.9" fill="#000"/>
<line x1="574.1" y1="362.9" x2="574.1" y2="557.6" stroke="#555" stroke-width="1.4" />
<line x1="569" y1="557.6" x2="867" y2="557.6" stroke="#222" stroke-width="1.4" />
<line x1="569" y1="557.6" x2="574.1" y2="557.6" stroke="#333" stroke-width="1.3" />
<text x="566" y="563.2" font-size="16" text-anchor="end">0</text>
<line x1="569" y1="533.34" x2="574.1" y2="533.34" stroke="#333" stroke-width="1.3" />
<text x="566" y="538.94" font-size="16" text-anchor="end">25</text>
<line x1="569" y1="509.08" x2="574.1" y2="509.08" stroke="#333" stroke-width="1.3" />
<text x="566" y="514.68" font-size="16" text-anchor="end">50</text>
<line x1="569" y1="484.82" x2="574.1" y2="484.82" stroke="#333" stroke-width="1.3" />
<text x="566" y="490.42" font-size="16" text-anchor="end">75</text>
<line x1="569" y1="460.56" x2="574.1" y2="460.56" stroke="#333" stroke-width="1.3" />
<text x="566" y="466.16" font-size="16" text-anchor="end">100</text>
<line x1="569" y1="436.3" x2="574.1" y2="436.3" stroke="#333" stroke-width="1.3" />
<text x="566" y="441.9" font-size="16" text-anchor="end">125</text>
<line x1="569" y1="412.04" x2="574.1" y2="412.04" stroke="#333" stroke-width="1.3" />
<text x="566" y="417.64" font-size="16" text-anchor="end">150</text>
<line x1="569" y1="387.78" x2="574.1" y2="387.78" stroke="#333" stroke-width="1.3" />
<text x="566" y="393.38" font-size="16" text-anchor="end">175</text>
<line x1="569" y1="363.52" x2="574.1" y2="363.52" stroke="#333" stroke-width="1.3" />
<text x="566" y="369.12" font-size="16" text-anchor="end">200</text>
<line x1="646.4" y1="557.6" x2="646.4" y2="563" stroke="#333" stroke-width="1.3" />
<line x1="792.4" y1="557.6" x2="792.4" y2="563" stroke="#333" stroke-width="1.3" />
<text x="646.4" y="579.4" font-size="16" text-anchor="middle">Normoxia</text>
<text x="792.4" y="579.4" font-size="16" text-anchor="middle">Hypoxia</text>
<text transform="translate(510 460) rotate(-90)" font-size="16" text-anchor="middle">IFNAR1</text>
<text transform="translate(529.3 460) rotate(-90)" font-size="16" text-anchor="middle">Geom Mean</text>
<line x1="655" y1="386.2" x2="786.5" y2="386.2" stroke="#333" stroke-width="1.3" />
<text x="715.7" y="383.8" font-size="14.5" text-anchor="middle">0.04</text>
<line x1="597.9" y1="436" x2="694.9" y2="436" stroke="#333" stroke-width="1.6" />
<line x1="646.4" y1="425" x2="646.4" y2="447.4" stroke="#333" stroke-width="1.4" />
<line x1="622.4" y1="425" x2="670.4" y2="425" stroke="#333" stroke-width="1.5" />
<line x1="622.4" y1="447.4" x2="670.4" y2="447.4" stroke="#333" stroke-width="1.5" />
<line x1="622.4" y1="425" x2="670.4" y2="425" stroke="#777" stroke-width="2" />
<circle cx="646.4" cy="420.5" r="3.9" fill="#000"/>
<circle cx="646.4" cy="429.5" r="3.9" fill="#000"/>
<circle cx="646.4" cy="458.7" r="3.9" fill="#000"/>
<line x1="743.9" y1="484.4" x2="840.9" y2="484.4" stroke="#333" stroke-width="1.5" />
<line x1="792.4" y1="473.7" x2="792.4" y2="495.8" stroke="#111" stroke-width="1.4" />
<line x1="768.4" y1="473.7" x2="816.4" y2="473.7" stroke="#333" stroke-width="1.4" />
<line x1="768.4" y1="495.8" x2="816.4" y2="495.8" stroke="#333" stroke-width="1.4" />
<line x1="768.4" y1="495.8" x2="816.4" y2="495.8" stroke="#777" stroke-width="2" />
<circle cx="792.4" cy="468.9" r="3.9" fill="#000"/>
<circle cx="792.4" cy="478.7" r="3.9" fill="#000"/>
<circle cx="792.4" cy="506.2" r="3.9" fill="#000"/>
<line x1="957.1" y1="360.8" x2="957.1" y2="559.4" stroke="#222" stroke-width="1.3" />
<line x1="952" y1="559.4" x2="1254.3" y2="559.4" stroke="#222" stroke-width="1.3" />
<line x1="952" y1="559.4" x2="957.1" y2="559.4" stroke="#222" stroke-width="1.3" />
<text x="949" y="565" font-size="16" text-anchor="end">0</text>
<line x1="952" y1="509.85" x2="957.1" y2="509.85" stroke="#222" stroke-width="1.3" />
<text x="949" y="515.45" font-size="16" text-anchor="end">100</text>
<line x1="952" y1="460.3" x2="957.1" y2="460.3" stroke="#222" stroke-width="1.3" />
<text x="949" y="465.9" font-size="16" text-anchor="end">200</text>
<line x1="952" y1="410.75" x2="957.1" y2="410.75" stroke="#222" stroke-width="1.3" />
<text x="949" y="416.35" font-size="16" text-anchor="end">300</text>
<line x1="952" y1="361.2" x2="957.1" y2="361.2" stroke="#222" stroke-width="1.3" />
<text x="949" y="366.8" font-size="16" text-anchor="end">400</text>
<line x1="1031.4" y1="559.4" x2="1031.4" y2="565" stroke="#222" stroke-width="1.3" />
<line x1="1179.9" y1="559.4" x2="1179.9" y2="565" stroke="#222" stroke-width="1.3" />
<text x="1031.4" y="581.7" font-size="16.5" text-anchor="middle">Untreated</text>
<text x="1180.5" y="581.7" font-size="16.5" text-anchor="middle">20uM Lactic Acid</text>
<text transform="translate(878.3 460) rotate(-90)" font-size="16" text-anchor="middle">IFNAR1</text>
<text transform="translate(897.8 460) rotate(-90)" font-size="16" text-anchor="middle">Geom Mean</text>
<line x1="1030.8" y1="369.1" x2="1166.4" y2="369.1" stroke="#333" stroke-width="1.3" />
<text x="1103.6" y="365" font-size="14" text-anchor="middle">0.06</text>
<line x1="982.1" y1="429.2" x2="1080.7" y2="429.2" stroke="#111" stroke-width="2.4" />
<line x1="1031.4" y1="416" x2="1031.4" y2="442.9" stroke="#111" stroke-width="2.2" />
<line x1="1006.8" y1="416" x2="1056" y2="416" stroke="#111" stroke-width="2.2" />
<line x1="1006.8" y1="442.9" x2="1056" y2="442.9" stroke="#111" stroke-width="2.2" />
<circle cx="1031.4" cy="410" r="3.9" fill="#000"/>
<circle cx="1031.4" cy="423.2" r="3.9" fill="#000"/>
<circle cx="1031.4" cy="455.1" r="3.9" fill="#000"/>
<line x1="1130.2" y1="492.8" x2="1229.6" y2="492.8" stroke="#111" stroke-width="2.4" />
<line x1="1179.9" y1="472.2" x2="1179.9" y2="514" stroke="#111" stroke-width="2.2" />
<line x1="1154.9" y1="472.2" x2="1204.9" y2="472.2" stroke="#111" stroke-width="2.2" />
<line x1="1154.9" y1="514" x2="1204.9" y2="514" stroke="#111" stroke-width="2.2" />
<rect x="1176.1" y="454" width="7.6" height="7.6" fill="#000"/>
<rect x="1176.1" y="487.5" width="7.6" height="7.6" fill="#000"/>
<rect x="1176.1" y="526.3" width="7.6" height="7.6" fill="#000"/>
<line x1="1420.6" y1="383.2" x2="1420.6" y2="562.4" stroke="#555" stroke-width="1.3" />
<line x1="1415.5" y1="562.4" x2="1689.5" y2="562.4" stroke="#222" stroke-width="1.3" />
<line x1="1415.5" y1="562.4" x2="1420.6" y2="562.4" stroke="#333" stroke-width="1.3" />
<text x="1413.8" y="567.6" font-size="15" text-anchor="end">0</text>
<line x1="1415.5" y1="517.9" x2="1420.6" y2="517.9" stroke="#333" stroke-width="1.3" />
<text x="1413.8" y="523.1" font-size="15" text-anchor="end">500</text>
<line x1="1415.5" y1="473.4" x2="1420.6" y2="473.4" stroke="#333" stroke-width="1.3" />
<text x="1413.8" y="478.6" font-size="15" text-anchor="end">1000</text>
<line x1="1415.5" y1="428.9" x2="1420.6" y2="428.9" stroke="#333" stroke-width="1.3" />
<text x="1413.8" y="434.1" font-size="15" text-anchor="end">1500</text>
<line x1="1415.5" y1="384.4" x2="1420.6" y2="384.4" stroke="#333" stroke-width="1.3" />
<text x="1413.8" y="389.6" font-size="15" text-anchor="end">2000</text>
<line x1="1454.6" y1="562.4" x2="1454.6" y2="567.5" stroke="#333" stroke-width="1.3" />
<text x="1454.6" y="582.8" font-size="15" text-anchor="middle">Ctrl</text>
<line x1="1521" y1="562.4" x2="1521" y2="567.5" stroke="#333" stroke-width="1.3" />
<text x="1521" y="582.8" font-size="15" text-anchor="middle">2</text>
<line x1="1588.1" y1="562.4" x2="1588.1" y2="567.5" stroke="#333" stroke-width="1.3" />
<text x="1588.1" y="582.8" font-size="15" text-anchor="middle">1</text>
<line x1="1654.8" y1="562.4" x2="1654.8" y2="567.5" stroke="#333" stroke-width="1.3" />
<text x="1654.8" y="582.8" font-size="15" text-anchor="middle">0.5</text>
<text x="1554.4" y="623" font-size="14.5" text-anchor="middle">THG (μM)</text>
<text x="1554.4" y="363.4" font-size="14.2" text-anchor="middle">Monocytes</text>
<text transform="translate(1360.5 472.2) rotate(-90)" font-size="14" text-anchor="middle">IFNAR1</text>
<text transform="translate(1377.8 472.2) rotate(-90)" font-size="14" text-anchor="middle">Geom Mean</text>
<line x1="1458.3" y1="396.7" x2="1515.8" y2="396.7" stroke="#333" stroke-width="1.3" />
<text x="1482.4" y="392.7" font-size="13" text-anchor="middle">0.02</text>
<line x1="1455.5" y1="415.3" x2="1579.8" y2="415.3" stroke="#222" stroke-width="1.3" />
<text x="1520.4" y="412.8" font-size="13" text-anchor="middle">0.02</text>
<line x1="1432.5" y1="449.9" x2="1476.7" y2="449.9" stroke="#333" stroke-width="1.6" />
<line x1="1454.6" y1="435.7" x2="1454.6" y2="464.4" stroke="#222" stroke-width="1.4" />
<line x1="1443.5" y1="435.7" x2="1465.7" y2="435.7" stroke="#222" stroke-width="1.4" />
<line x1="1443.5" y1="464.4" x2="1465.7" y2="464.4" stroke="#222" stroke-width="1.4" />
<circle cx="1454.6" cy="423.6" r="3.6" fill="#000"/>
<circle cx="1454.6" cy="453" r="3.6" fill="#000"/>
<circle cx="1454.6" cy="473.7" r="3.6" fill="#000"/>
<line x1="1498.9" y1="554" x2="1543.1" y2="554" stroke="#333" stroke-width="1.6" />
<line x1="1521" y1="550" x2="1521" y2="558" stroke="#555" stroke-width="1.3" />
<line x1="1509.9" y1="550" x2="1532.1" y2="550" stroke="#555" stroke-width="1.3" />
<line x1="1509.9" y1="558" x2="1532.1" y2="558" stroke="#555" stroke-width="1.3" />
<circle cx="1514.2" cy="548.8" r="3.6" fill="#000"/>
<circle cx="1528.5" cy="550.6" r="3.6" fill="#000"/>
<circle cx="1521" cy="561.8" r="3.6" fill="#000"/>
<line x1="1565.7" y1="547.2" x2="1610.5" y2="547.2" stroke="#222" stroke-width="1.6" />
<line x1="1588.1" y1="540.8" x2="1588.1" y2="554.7" stroke="#222" stroke-width="1.4" />
<line x1="1577" y1="540.8" x2="1599.2" y2="540.8" stroke="#222" stroke-width="1.4" />
<line x1="1577" y1="554.7" x2="1599.2" y2="554.7" stroke="#222" stroke-width="1.4" />
<circle cx="1588.1" cy="534.6" r="3.6" fill="#000"/>
<circle cx="1588.1" cy="548.8" r="3.6" fill="#000"/>
<circle cx="1588.1" cy="559" r="3.6" fill="#000"/>
<line x1="1632.7" y1="533" x2="1676.9" y2="533" stroke="#333" stroke-width="1.6" />
<line x1="1654.8" y1="525.6" x2="1654.8" y2="540.4" stroke="#333" stroke-width="1.4" />
<line x1="1643.7" y1="525.6" x2="1665.9" y2="525.6" stroke="#333" stroke-width="1.4" />
<line x1="1643.7" y1="540.4" x2="1665.9" y2="540.4" stroke="#333" stroke-width="1.4" />
<circle cx="1647.7" cy="523.4" r="3.6" fill="#000"/>
<circle cx="1662.3" cy="527.8" r="3.6" fill="#000"/>
<circle cx="1654.8" cy="547.9" r="3.6" fill="#000"/>
<line x1="1774.3" y1="385.6" x2="1774.3" y2="560.5" stroke="#555" stroke-width="1.3" />
<line x1="1769.5" y1="560.5" x2="2038.2" y2="560.5" stroke="#333" stroke-width="1.3" />
<line x1="1769.5" y1="560.5" x2="1774.3" y2="560.5" stroke="#333" stroke-width="1.3" />
<text x="1767.2" y="565.7" font-size="15" text-anchor="end">0</text>
<line x1="1769.5" y1="531.45" x2="1774.3" y2="531.45" stroke="#333" stroke-width="1.3" />
<text x="1767.2" y="536.65" font-size="15" text-anchor="end">100</text>
<line x1="1769.5" y1="502.4" x2="1774.3" y2="502.4" stroke="#333" stroke-width="1.3" />
<text x="1767.2" y="507.6" font-size="15" text-anchor="end">200</text>
<line x1="1769.5" y1="473.35" x2="1774.3" y2="473.35" stroke="#333" stroke-width="1.3" />
<text x="1767.2" y="478.55" font-size="15" text-anchor="end">300</text>
<line x1="1769.5" y1="444.3" x2="1774.3" y2="444.3" stroke="#333" stroke-width="1.3" />
<text x="1767.2" y="449.5" font-size="15" text-anchor="end">400</text>
<line x1="1769.5" y1="415.25" x2="1774.3" y2="415.25" stroke="#333" stroke-width="1.3" />
<text x="1767.2" y="420.45" font-size="15" text-anchor="end">500</text>
<line x1="1769.5" y1="386.2" x2="1774.3" y2="386.2" stroke="#333" stroke-width="1.3" />
<text x="1767.2" y="391.4" font-size="15" text-anchor="end">600</text>
<line x1="1807.7" y1="560.5" x2="1807.7" y2="565.5" stroke="#333" stroke-width="1.3" />
<text x="1807.7" y="580.2" font-size="15" text-anchor="middle">Ctrl</text>
<line x1="1873.5" y1="560.5" x2="1873.5" y2="565.5" stroke="#333" stroke-width="1.3" />
<text x="1873.5" y="580.2" font-size="15" text-anchor="middle">2</text>
<line x1="1939.3" y1="560.5" x2="1939.3" y2="565.5" stroke="#333" stroke-width="1.3" />
<text x="1939.3" y="580.2" font-size="15" text-anchor="middle">1</text>
<line x1="2005.1" y1="560.5" x2="2005.1" y2="565.5" stroke="#333" stroke-width="1.3" />
<text x="2005.1" y="580.2" font-size="15" text-anchor="middle">0.5</text>
<text x="1906.2" y="601.9" font-size="14.5" text-anchor="middle">THG (μM)</text>
<text x="1906.2" y="360" font-size="14.2" text-anchor="middle">Neutrophils</text>
<text transform="translate(1724 472) rotate(-90)" font-size="14" text-anchor="middle">IFNAR1</text>
<text transform="translate(1741.4 472) rotate(-90)" font-size="14" text-anchor="middle">Geom Mean</text>
<line x1="1808.3" y1="398" x2="1939" y2="398" stroke="#222" stroke-width="1.3" />
<text x="1874.4" y="392.7" font-size="13" text-anchor="middle">0.03</text>
<line x1="1806.8" y1="414.3" x2="1859.3" y2="414.3" stroke="#555" stroke-width="1.6" />
<text x="1839.2" y="411.6" font-size="13" text-anchor="middle">0.02</text>
<line x1="1786.1" y1="447.7" x2="1829.3" y2="447.7" stroke="#555" stroke-width="1.8" />
<line x1="1807.7" y1="437.2" x2="1807.7" y2="459.4" stroke="#333" stroke-width="1.4" />
<line x1="1796.9" y1="437.2" x2="1818.5" y2="437.2" stroke="#333" stroke-width="1.4" />
<line x1="1796.9" y1="459.4" x2="1818.5" y2="459.4" stroke="#333" stroke-width="1.4" />
<circle cx="1807.7" cy="426.1" r="3.6" fill="#000"/>
<circle cx="1800.6" cy="459.7" r="3.6" fill="#000"/>
<circle cx="1814.8" cy="457.9" r="3.6" fill="#000"/>
<line x1="1851.9" y1="545.6" x2="1895.1" y2="545.6" stroke="#333" stroke-width="1.6" />
<line x1="1873.5" y1="540.4" x2="1873.5" y2="550.6" stroke="#555" stroke-width="1.3" />
<line x1="1862.7" y1="540.4" x2="1884.3" y2="540.4" stroke="#555" stroke-width="1.3" />
<line x1="1862.7" y1="550.6" x2="1884.3" y2="550.6" stroke="#555" stroke-width="1.3" />
<circle cx="1873.5" cy="536.4" r="3.6" fill="#000"/>
<circle cx="1873.5" cy="544.4" r="3.6" fill="#000"/>
<circle cx="1873.5" cy="554.6" r="3.6" fill="#000"/>
<line x1="1917.7" y1="527.7" x2="1960.9" y2="527.7" stroke="#555" stroke-width="1.8" />
<line x1="1939.3" y1="514.1" x2="1939.3" y2="541.9" stroke="#555" stroke-width="1.6" />
<line x1="1928.5" y1="514.1" x2="1950.1" y2="514.1" stroke="#555" stroke-width="1.6" />
<line x1="1928.5" y1="541.9" x2="1950.1" y2="541.9" stroke="#555" stroke-width="1.6" />
<circle cx="1939.3" cy="505.8" r="3.6" fill="#000"/>
<circle cx="1939.3" cy="523.4" r="3.6" fill="#000"/>
<circle cx="1939.3" cy="553.7" r="3.6" fill="#000"/>
<line x1="1983.5" y1="503.6" x2="2026.7" y2="503.6" stroke="#555" stroke-width="1.8" />
<line x1="2005.1" y1="491.3" x2="2005.1" y2="515.7" stroke="#555" stroke-width="1.6" />
<line x1="1994.3" y1="491.3" x2="2015.9" y2="491.3" stroke="#555" stroke-width="1.6" />
<line x1="1994.3" y1="515.7" x2="2015.9" y2="515.7" stroke="#555" stroke-width="1.6" />
<circle cx="1997.7" cy="490.3" r="3.6" fill="#000"/>
<circle cx="2011.9" cy="492.5" r="3.6" fill="#000"/>
<circle cx="2004.8" cy="527.4" r="3.6" fill="#000"/>
<line x1="125.7" y1="720.5" x2="125.7" y2="912.6" stroke="#333" stroke-width="1.4" />
<line x1="120.5" y1="912.6" x2="414.7" y2="912.6" stroke="#333" stroke-width="1.5" />
<line x1="120.5" y1="912.6" x2="125.7" y2="912.6" stroke="#333" stroke-width="1.4" />
<text x="117" y="918" font-size="15.5" text-anchor="end">0</text>
<line x1="120.5" y1="867.44" x2="125.7" y2="867.44" stroke="#333" stroke-width="1.4" />
<text x="117" y="872.84" font-size="15.5" text-anchor="end">20</text>
<line x1="120.5" y1="822.28" x2="125.7" y2="822.28" stroke="#333" stroke-width="1.4" />
<text x="117" y="827.68" font-size="15.5" text-anchor="end">40</text>
<line x1="120.5" y1="777.12" x2="125.7" y2="777.12" stroke="#333" stroke-width="1.4" />
<text x="117" y="782.52" font-size="15.5" text-anchor="end">60</text>
<line x1="120.5" y1="731.96" x2="125.7" y2="731.96" stroke="#333" stroke-width="1.4" />
<text x="117" y="737.36" font-size="15.5" text-anchor="end">80</text>
<line x1="166.9" y1="912.6" x2="166.9" y2="919.8" stroke="#333" stroke-width="1.4" />
<text x="167.4" y="935.4" font-size="15.5" text-anchor="middle">1:1</text>
<line x1="252.4" y1="912.6" x2="252.4" y2="919.8" stroke="#333" stroke-width="1.4" />
<text x="252.9" y="935.4" font-size="15.5" text-anchor="middle">1:2</text>
<line x1="354.9" y1="912.6" x2="354.9" y2="919.8" stroke="#333" stroke-width="1.4" />
<text x="355.4" y="935.4" font-size="15.5" text-anchor="middle">1:4</text>
<text x="271" y="957" font-size="15.7" text-anchor="middle">PMN : T cells ratio</text>
<text transform="translate(91.8 817.8) rotate(-90) scale(1 0.9)" font-size="16" text-anchor="middle">% of Proliferating CD8</text>
<rect x="133.3" y="766.9" width="14.2" height="145.7" stroke="#333" stroke-width="1.5" fill="#fff"/>
<rect x="151.4" y="763.1" width="14.2" height="149.5" stroke="#333" stroke-width="1.5" fill="#fff"/>
<rect x="168.6" y="855.3" width="14.2" height="57.3" stroke="#333" stroke-width="1.5" fill="#fff"/>
<rect x="186.4" y="832.2" width="14.2" height="80.4" stroke="#333" stroke-width="1.5" fill="#fff"/>
<rect x="218.6" y="759.1" width="14.2" height="153.5" stroke="#333" stroke-width="1.5" fill="#fff"/>
<rect x="236.5" y="756.8" width="14.2" height="155.8" stroke="#333" stroke-width="1.5" fill="#fff"/>
<rect x="254.4" y="762.7" width="14.2" height="149.9" stroke="#333" stroke-width="1.5" fill="#fff"/>
<rect x="272" y="757.1" width="14.2" height="155.5" stroke="#333" stroke-width="1.5" fill="#fff"/>
<rect x="304.3" y="752.4" width="14.2" height="160.2" stroke="#333" stroke-width="1.5" fill="#fff"/>
<rect x="321.8" y="754.9" width="14.2" height="157.7" stroke="#333" stroke-width="1.5" fill="#fff"/>
<rect x="339.5" y="742.8" width="14.2" height="169.8" stroke="#333" stroke-width="1.5" fill="#fff"/>
<rect x="357.3" y="742.5" width="14.2" height="170.1" stroke="#333" stroke-width="1.5" fill="#fff"/>
<rect x="375" y="910.8" width="14.2" height="1.8" stroke="#333" stroke-width="1.5" fill="#fff"/>
<rect x="392.6" y="742.2" width="14.2" height="170.4" stroke="#333" stroke-width="1.5" fill="#fff"/>
<line x1="140.4" y1="751.8" x2="140.4" y2="781.1" stroke="#111" stroke-width="1.5" />
<line x1="137" y1="751.8" x2="143.8" y2="751.8" stroke="#222" stroke-width="1.5" />
<line x1="137" y1="781.1" x2="143.8" y2="781.1" stroke="#222" stroke-width="1.5" />
<line x1="158.1" y1="752.7" x2="158.1" y2="771.7" stroke="#f24545" stroke-width="1.4" />
<line x1="154.7" y1="752.7" x2="161.5" y2="752.7" stroke="#f24545" stroke-width="1.4" />
<line x1="154.7" y1="771.7" x2="161.5" y2="771.7" stroke="#f24545" stroke-width="1.4" />
<line x1="175.9" y1="839.7" x2="175.9" y2="869.6" stroke="#222" stroke-width="1.5" />
<line x1="172.5" y1="839.7" x2="179.3" y2="839.7" stroke="#222" stroke-width="1.5" />
<line x1="172.5" y1="869.6" x2="179.3" y2="869.6" stroke="#222" stroke-width="1.5" />
<line x1="193.5" y1="800.5" x2="193.5" y2="863" stroke="#111" stroke-width="1.5" />
<line x1="190.1" y1="800.5" x2="196.9" y2="800.5" stroke="#111" stroke-width="1.5" />
<line x1="190.1" y1="863" x2="196.9" y2="863" stroke="#111" stroke-width="1.5" />
<line x1="225.7" y1="755.5" x2="225.7" y2="763" stroke="#333" stroke-width="1.3" />
<line x1="222.3" y1="755.5" x2="229.1" y2="755.5" stroke="#333" stroke-width="1.3" />
<line x1="222.3" y1="763" x2="229.1" y2="763" stroke="#333" stroke-width="1.3" />
<line x1="243.5" y1="748.8" x2="243.5" y2="761" stroke="#f24545" stroke-width="1.3" />
<line x1="240.1" y1="748.8" x2="246.9" y2="748.8" stroke="#f24545" stroke-width="1.3" />
<line x1="240.1" y1="761" x2="246.9" y2="761" stroke="#f24545" stroke-width="1.3" />
<line x1="261.3" y1="758.5" x2="261.3" y2="766.5" stroke="#222" stroke-width="1.3" />
<line x1="257.9" y1="758.5" x2="264.7" y2="758.5" stroke="#222" stroke-width="1.3" />
<line x1="257.9" y1="766.5" x2="264.7" y2="766.5" stroke="#222" stroke-width="1.3" />
<line x1="279" y1="746.3" x2="279" y2="767.6" stroke="#111" stroke-width="1.5" />
<line x1="275.6" y1="746.3" x2="282.4" y2="746.3" stroke="#111" stroke-width="1.5" />
<line x1="275.6" y1="767.6" x2="282.4" y2="767.6" stroke="#111" stroke-width="1.5" />
<line x1="311.4" y1="749.5" x2="311.4" y2="756" stroke="#333" stroke-width="1.3" />
<line x1="308" y1="749.5" x2="314.8" y2="749.5" stroke="#333" stroke-width="1.3" />
<line x1="308" y1="756" x2="314.8" y2="756" stroke="#333" stroke-width="1.3" />
<line x1="328.8" y1="750.5" x2="328.8" y2="757" stroke="#f24545" stroke-width="1.3" />
<line x1="325.4" y1="750.5" x2="332.2" y2="750.5" stroke="#f24545" stroke-width="1.3" />
<line x1="325.4" y1="757" x2="332.2" y2="757" stroke="#f24545" stroke-width="1.3" />
<line x1="346.6" y1="740.5" x2="346.6" y2="745.5" stroke="#222" stroke-width="1.3" />
<line x1="343.2" y1="740.5" x2="350" y2="740.5" stroke="#222" stroke-width="1.3" />
<line x1="343.2" y1="745.5" x2="350" y2="745.5" stroke="#222" stroke-width="1.3" />
<line x1="364.2" y1="731.7" x2="364.2" y2="752.7" stroke="#777" stroke-width="2" />
<line x1="360.8" y1="731.7" x2="367.6" y2="731.7" stroke="#111" stroke-width="2" />
<line x1="360.8" y1="752.7" x2="367.6" y2="752.7" stroke="#111" stroke-width="2" />
<line x1="399.6" y1="734.5" x2="399.6" y2="742" stroke="#222" stroke-width="1.3" />
<line x1="396.2" y1="734.5" x2="403" y2="734.5" stroke="#222" stroke-width="1.3" />
<line x1="396.2" y1="742" x2="403" y2="742" stroke="#222" stroke-width="1.3" />
<circle cx="140.3" cy="750.1" r="3.3" fill="#000"/>
<circle cx="136.6" cy="776" r="3.3" fill="#000"/>
<circle cx="143.9" cy="773.9" r="3.3" fill="#000"/>
<circle cx="158" cy="752.7" r="3.3" fill="#f24545"/>
<circle cx="158" cy="764.2" r="3.3" fill="#f24545"/>
<circle cx="158" cy="772" r="3.3" fill="#f24545"/>
<circle cx="175.9" cy="842.6" r="3.3" fill="#0000ff"/>
<circle cx="175.9" cy="850.7" r="3.3" fill="#0000ff"/>
<circle cx="175.9" cy="871.9" r="3.3" fill="#0000ff"/>
<circle cx="190" cy="811.6" r="3.3" fill="#a020f0"/>
<circle cx="196.9" cy="816" r="3.3" fill="#a020f0"/>
<circle cx="193.2" cy="867.6" r="3.3" fill="#a020f0"/>
<circle cx="222.4" cy="754.3" r="3.3" fill="#000"/>
<circle cx="229.1" cy="757.4" r="3.3" fill="#000"/>
<circle cx="222.4" cy="763" r="3.3" fill="#000"/>
<circle cx="243.4" cy="748.8" r="3.3" fill="#f24545"/>
<circle cx="240" cy="761.1" r="3.3" fill="#f24545"/>
<circle cx="246.8" cy="759.6" r="3.3" fill="#f24545"/>
<circle cx="257.6" cy="766.7" r="3.3" fill="#0000ff"/>
<circle cx="261" cy="758.7" r="3.3" fill="#0000ff"/>
<circle cx="264.4" cy="760.8" r="3.3" fill="#0000ff"/>
<circle cx="275.5" cy="750" r="3.3" fill="#a020f0"/>
<circle cx="282" cy="751" r="3.3" fill="#a020f0"/>
<circle cx="278.7" cy="767.6" r="3.3" fill="#a020f0"/>
<circle cx="311.3" cy="747.8" r="3.3" fill="#000"/>
<circle cx="314.7" cy="750.8" r="3.3" fill="#000"/>
<circle cx="307.9" cy="757" r="3.3" fill="#000"/>
<circle cx="328.6" cy="750.2" r="3.3" fill="#f24545"/>
<circle cx="325.5" cy="757.3" r="3.3" fill="#f24545"/>
<circle cx="332.3" cy="757" r="3.3" fill="#f24545"/>
<circle cx="343.1" cy="745.3" r="3.3" fill="#0000ff"/>
<circle cx="346.5" cy="740" r="3.3" fill="#0000ff"/>
<circle cx="349.9" cy="741.6" r="3.3" fill="#0000ff"/>
<circle cx="364" cy="731.7" r="3.3" fill="#a020f0"/>
<circle cx="364" cy="740.8" r="3.3" fill="#a020f0"/>
<circle cx="364" cy="752.7" r="3.3" fill="#a020f0"/>
<polygon points="378.4,905.6 382.6,909.8 378.4,914 374.2,909.8" fill="#000"/>
<polygon points="381.5,905 385.7,909.2 381.5,913.4 377.3,909.2" fill="#000"/>
<polygon points="385.3,905.6 389.5,909.8 385.3,914 381.1,909.8" fill="#000"/>
<polygon points="399.4,730.2 403.7,734.5 399.4,738.8 395.1,734.5" fill="#fff" stroke="#000" stroke-width="1.9"/>
<polygon points="396,737.9 400.3,742.2 396,746.5 391.7,742.2" fill="#fff" stroke="#000" stroke-width="1.9"/>
<polygon points="402.9,737.3 407.2,741.6 402.9,745.9 398.6,741.6" fill="#fff" stroke="#000" stroke-width="1.9"/>
<polyline points="139.3,734.9 139.3,727.9 177.2,727.9 177.2,775.5" stroke="#666" stroke-width="1.6" fill="none"/>
<line x1="139.3" y1="727.9" x2="177.2" y2="727.9" stroke="#444" stroke-width="1.4" />
<polyline points="156.8,708.1 156.8,700.9 194.7,700.9 194.7,748.5" stroke="#222" stroke-width="1.4" fill="none"/>
<text x="157.6" y="725.4" font-size="13.6" text-anchor="middle">0.001</text>
<text x="174.6" y="697.6" font-size="13.6" text-anchor="middle">0.002</text>
<circle cx="467.9" cy="733.7" r="2.7" fill="#000"/>
<text x="490.3" y="738.9" font-size="15.6">WT untreated</text>
<circle cx="467.9" cy="759.6" r="2.7" fill="#f24545"/>
<text x="490.3" y="764.8" font-size="15.6">SA untreated</text>
<circle cx="467.9" cy="785.5" r="2.7" fill="#0000ff"/>
<text x="490.3" y="790.7" font-size="15.6">WT THG</text>
<circle cx="467.9" cy="811.4" r="2.7" fill="#a020f0"/>
<text x="490.3" y="816.6" font-size="15.6">SA THG</text>
<polygon points="467.9,833.5 471.7,837.3 467.9,841.1 464.1,837.3" fill="#000"/>
<text x="490.3" y="842.5" font-size="15.6">negative CTRL</text>
<polygon points="467.9,859 472.1,863.2 467.9,867.4 463.7,863.2" fill="#fff" stroke="#000" stroke-width="1.9"/>
<text x="490.3" y="868.4" font-size="15.6">positive CTRL</text>
<line x1="732.8" y1="719.1" x2="732.8" y2="925.6" stroke="#333" stroke-width="1.4" />
<line x1="727.5" y1="925.6" x2="1043" y2="925.6" stroke="#333" stroke-width="1.5" />
<line x1="727.5" y1="925.6" x2="732.8" y2="925.6" stroke="#333" stroke-width="1.4" />
<text x="722" y="931" font-size="15.5" text-anchor="end">0</text>
<line x1="727.5" y1="874.05" x2="732.8" y2="874.05" stroke="#333" stroke-width="1.4" />
<text x="722" y="879.45" font-size="15.5" text-anchor="end">20</text>
<line x1="727.5" y1="822.5" x2="732.8" y2="822.5" stroke="#333" stroke-width="1.4" />
<text x="722" y="827.9" font-size="15.5" text-anchor="end">40</text>
<line x1="727.5" y1="770.95" x2="732.8" y2="770.95" stroke="#333" stroke-width="1.4" />
<text x="722" y="776.35" font-size="15.5" text-anchor="end">60</text>
<line x1="727.5" y1="719.4" x2="732.8" y2="719.4" stroke="#333" stroke-width="1.4" />
<text x="722" y="724.8" font-size="15.5" text-anchor="end">80</text>
<line x1="776.6" y1="925.6" x2="776.6" y2="932.5" stroke="#333" stroke-width="1.4" />
<text x="777.1" y="950.2" font-size="15.5" text-anchor="middle">1:1</text>
<line x1="868.1" y1="925.6" x2="868.1" y2="932.5" stroke="#333" stroke-width="1.4" />
<text x="868.6" y="950.2" font-size="15.5" text-anchor="middle">1:2</text>
<line x1="978.9" y1="925.6" x2="978.9" y2="932.5" stroke="#333" stroke-width="1.4" />
<text x="979.4" y="950.2" font-size="15.5" text-anchor="middle">1:4</text>
<text x="887.9" y="966.5" font-size="15.7" text-anchor="middle">MDSC:splenocytes ratio</text>
<text transform="translate(691.4 822) rotate(-90) scale(1 0.9)" font-size="17.2" text-anchor="middle">% of proliferating CD8 T cells</text>
<rect x="741.1" y="835.4" width="15.2" height="90.2" stroke="#333" stroke-width="1.5" fill="#fff"/>
<rect x="760.2" y="877.6" width="15.2" height="48" stroke="#333" stroke-width="1.5" fill="#fff"/>
<rect x="779.4" y="855.6" width="15.2" height="70" stroke="#333" stroke-width="1.5" fill="#fff"/>
<rect x="798.1" y="894.1" width="15.2" height="31.5" stroke="#333" stroke-width="1.5" fill="#fff"/>
<rect x="832.7" y="768.3" width="15.2" height="157.3" stroke="#333" stroke-width="1.5" fill="#fff"/>
<rect x="851.4" y="801.4" width="15.2" height="124.2" stroke="#333" stroke-width="1.5" fill="#fff"/>
<rect x="870.4" y="777.4" width="15.2" height="148.2" stroke="#333" stroke-width="1.5" fill="#fff"/>
<rect x="889.4" y="816.5" width="15.2" height="109.1" stroke="#333" stroke-width="1.5" fill="#fff"/>
<rect x="924.3" y="748.2" width="15.2" height="177.4" stroke="#333" stroke-width="1.5" fill="#fff"/>
<rect x="943.3" y="753.2" width="15.2" height="172.4" stroke="#333" stroke-width="1.5" fill="#fff"/>
<rect x="962.3" y="748.5" width="15.2" height="177.1" stroke="#333" stroke-width="1.5" fill="#fff"/>
<rect x="981.5" y="761.5" width="15.2" height="164.1" stroke="#333" stroke-width="1.5" fill="#fff"/>
<rect x="1000.5" y="923.6" width="15.2" height="2" stroke="#333" stroke-width="1.5" fill="#fff"/>
<rect x="1019.4" y="738.3" width="15.2" height="187.3" stroke="#333" stroke-width="1.5" fill="#fff"/>
<line x1="748.3" y1="821.7" x2="748.3" y2="849.1" stroke="#111" stroke-width="1.5" />
<line x1="744.8" y1="821.7" x2="751.8" y2="821.7" stroke="#111" stroke-width="1.5" />
<line x1="744.8" y1="849.1" x2="751.8" y2="849.1" stroke="#111" stroke-width="1.5" />
<line x1="767.5" y1="847" x2="767.5" y2="906" stroke="#0000ff" stroke-width="1.6" />
<line x1="764" y1="847" x2="771" y2="847" stroke="#0000ff" stroke-width="1.6" />
<line x1="764" y1="906" x2="771" y2="906" stroke="#0000ff" stroke-width="1.6" />
<line x1="786.5" y1="809.2" x2="786.5" y2="902.5" stroke="#111" stroke-width="1.5" />
<line x1="786.4" y1="809.2" x2="786.6" y2="809.2" stroke="#111" stroke-width="1.5" />
<line x1="786.4" y1="902.5" x2="786.6" y2="902.5" stroke="#111" stroke-width="1.5" />
<line x1="805.4" y1="889.2" x2="805.4" y2="896.5" stroke="#008000" stroke-width="1.4" />
<line x1="801.9" y1="889.2" x2="808.9" y2="889.2" stroke="#008000" stroke-width="1.4" />
<line x1="801.9" y1="896.5" x2="808.9" y2="896.5" stroke="#008000" stroke-width="1.4" />
<line x1="840" y1="764.5" x2="840" y2="772" stroke="#777" stroke-width="1.3" />
<line x1="836.5" y1="764.5" x2="843.5" y2="764.5" stroke="#777" stroke-width="1.3" />
<line x1="836.5" y1="772" x2="843.5" y2="772" stroke="#777" stroke-width="1.3" />
<line x1="859" y1="775.3" x2="859" y2="830.3" stroke="#6464ff" stroke-width="2" />
<line x1="855.5" y1="775.3" x2="862.5" y2="775.3" stroke="#6464ff" stroke-width="2" />
<line x1="855.5" y1="830.3" x2="862.5" y2="830.3" stroke="#6464ff" stroke-width="2" />
<line x1="877.9" y1="741.3" x2="877.9" y2="812.5" stroke="#777" stroke-width="2" />
<line x1="874.4" y1="741.3" x2="881.4" y2="741.3" stroke="#111" stroke-width="2" />
<line x1="874.4" y1="812.5" x2="881.4" y2="812.5" stroke="#111" stroke-width="2" />
<line x1="896.8" y1="802.2" x2="896.8" y2="830.3" stroke="#5cae5c" stroke-width="2" />
<line x1="893.3" y1="802.2" x2="900.3" y2="802.2" stroke="#5cae5c" stroke-width="2" />
<line x1="893.3" y1="830.3" x2="900.3" y2="830.3" stroke="#5cae5c" stroke-width="2" />
<line x1="931.6" y1="745.6" x2="931.6" y2="748" stroke="#222" stroke-width="1.3" />
<line x1="928.1" y1="745.6" x2="935.1" y2="745.6" stroke="#222" stroke-width="1.3" />
<line x1="928.1" y1="748" x2="935.1" y2="748" stroke="#222" stroke-width="1.3" />
<line x1="950.5" y1="744" x2="950.5" y2="760.5" stroke="#0000ff" stroke-width="1.5" />
<line x1="947" y1="744" x2="954" y2="744" stroke="#0000ff" stroke-width="1.5" />
<line x1="947" y1="760.5" x2="954" y2="760.5" stroke="#0000ff" stroke-width="1.5" />
<line x1="970.5" y1="737.4" x2="970.5" y2="759.3" stroke="#111" stroke-width="1.6" />
<line x1="967" y1="737.4" x2="974" y2="737.4" stroke="#111" stroke-width="1.6" />
<line x1="967" y1="759.3" x2="974" y2="759.3" stroke="#111" stroke-width="1.6" />
<line x1="988.6" y1="753.2" x2="988.6" y2="766.5" stroke="#008000" stroke-width="1.5" />
<line x1="985.1" y1="753.2" x2="992.1" y2="753.2" stroke="#008000" stroke-width="1.5" />
<line x1="985.1" y1="766.5" x2="992.1" y2="766.5" stroke="#008000" stroke-width="1.5" />
<line x1="1027" y1="732.5" x2="1027" y2="743.4" stroke="#111" stroke-width="1.5" />
<line x1="1024.5" y1="732.5" x2="1029.5" y2="732.5" stroke="#111" stroke-width="1.5" />
<line x1="1024.5" y1="743.4" x2="1029.5" y2="743.4" stroke="#111" stroke-width="1.5" />
<circle cx="748.3" cy="823.9" r="3.6" fill="#000"/>
<circle cx="748.3" cy="831.1" r="3.6" fill="#000"/>
<circle cx="748.3" cy="848.4" r="3.6" fill="#000"/>
<circle cx="767.5" cy="846" r="3.6" fill="#0000ff"/>
<circle cx="767.5" cy="880.1" r="3.6" fill="#0000ff"/>
<circle cx="767.5" cy="905.1" r="3.6" fill="#0000ff"/>
<circle cx="786.5" cy="809.2" r="3.6" fill="#ff0000"/>
<circle cx="786.5" cy="853.5" r="3.6" fill="#ff0000"/>
<circle cx="786.5" cy="902.5" r="3.6" fill="#ff0000"/>
<circle cx="805.4" cy="889.2" r="3.6" fill="#008000"/>
<circle cx="800.6" cy="897.5" r="3.6" fill="#008000"/>
<circle cx="810.3" cy="895.7" r="3.6" fill="#008000"/>
<circle cx="835.4" cy="763.4" r="3.6" fill="#000"/>
<circle cx="835.4" cy="772.3" r="3.6" fill="#000"/>
<circle cx="845.1" cy="767.7" r="3.6" fill="#000"/>
<circle cx="859" cy="775.3" r="3.6" fill="#0000ff"/>
<circle cx="859" cy="797.7" r="3.6" fill="#0000ff"/>
<circle cx="859" cy="830.3" r="3.6" fill="#0000ff"/>
<circle cx="877.9" cy="751" r="3.6" fill="#ff0000"/>
<circle cx="877.9" cy="762.6" r="3.6" fill="#ff0000"/>
<circle cx="877.9" cy="817.8" r="3.6" fill="#ff0000"/>
<circle cx="896.8" cy="802.2" r="3.6" fill="#008000"/>
<circle cx="896.8" cy="815.6" r="3.6" fill="#008000"/>
<circle cx="896.8" cy="830.3" r="3.6" fill="#008000"/>
<circle cx="926.9" cy="747.2" r="3.4" fill="#000"/>
<circle cx="931.6" cy="745.6" r="3.4" fill="#000"/>
<circle cx="936.4" cy="747.2" r="3.4" fill="#000"/>
<circle cx="950.5" cy="744" r="3.4" fill="#0000ff"/>
<circle cx="945.9" cy="758" r="3.4" fill="#0000ff"/>
<circle cx="955.4" cy="755.5" r="3.4" fill="#0000ff"/>
<circle cx="964.8" cy="739.9" r="3.4" fill="#ff0000"/>
<circle cx="974.3" cy="743.9" r="3.4" fill="#ff0000"/>
<circle cx="969.5" cy="759.3" r="3.4" fill="#ff0000"/>
<circle cx="988.6" cy="753.2" r="3.4" fill="#008000"/>
<circle cx="984" cy="765.6" r="3.4" fill="#008000"/>
<circle cx="993.5" cy="763.1" r="3.4" fill="#008000"/>
<polygon points="1003.1,919.6 1006.4,922.9 1003.1,926.2 999.8,922.9" fill="#000"/>
<polygon points="1007.9,919.6 1011.2,922.9 1007.9,926.2 1004.6,922.9" fill="#000"/>
<polygon points="1012.6,919.6 1015.9,922.9 1012.6,926.2 1009.3,922.9" fill="#000"/>
<polygon points="1021.6,728.3 1025.8,732.5 1021.6,736.7 1017.4,732.5" fill="#fff" stroke="#000" stroke-width="1.9"/>
<polygon points="1021.6,739.2 1025.8,743.4 1021.6,747.6 1017.4,743.4" fill="#fff" stroke="#000" stroke-width="1.9"/>
<polygon points="1031.6,733.2 1035.8,737.4 1031.6,741.6 1027.4,737.4" fill="#fff" stroke="#000" stroke-width="1.9"/>
<circle cx="1062.2" cy="731.3" r="3.5" fill="#000"/>
<text x="1086.2" y="736.7" font-size="15.7">THG WT</text>
<circle cx="1062.2" cy="759.06" r="3.5" fill="#0000ff"/>
<text x="1086.2" y="764.46" font-size="15.7">THG SA</text>
<circle cx="1062.2" cy="786.82" r="3.5" fill="#ff0000"/>
<text x="1086.2" y="792.22" font-size="15.7">IFNb+ THG WT</text>
<circle cx="1062.2" cy="814.58" r="3.5" fill="#008000"/>
<text x="1086.2" y="819.98" font-size="15.7">IFNb+ THG SA</text>
<polygon points="1062.2,839.14 1065.4,842.34 1062.2,845.54 1059,842.34" fill="#000"/>
<text x="1086.2" y="847.74" font-size="15.7">negative CTRL</text>
<polygon points="1062.2,865.9 1066.4,870.1 1062.2,874.3 1058,870.1" fill="#fff" stroke="#000" stroke-width="1.9"/>
<text x="1086.2" y="875.5" font-size="15.7">Positive CTRL</text>
</svg>
</body></html>
